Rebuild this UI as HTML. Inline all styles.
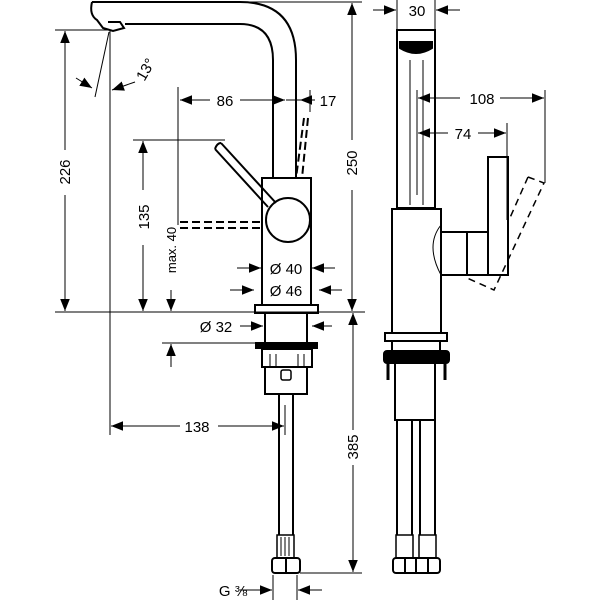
<!DOCTYPE html>
<html><head><meta charset="utf-8"><style>
html,body{margin:0;padding:0;background:#fff;}
svg{display:block}
text{font-family:"Liberation Sans",sans-serif;font-size:15px;fill:#000}
</style></head><body>
<svg width="600" height="600" viewBox="0 0 600 600" xmlns="http://www.w3.org/2000/svg">
<defs>
<marker id="a" viewBox="0 0 10 10" refX="10" refY="5" markerWidth="12" markerHeight="12" markerUnits="userSpaceOnUse" orient="auto"><path d="M0,1 L10,5 L0,9 z" fill="#000"/></marker>
</defs>
<g fill="none" stroke="#000" stroke-width="1">
<line x1="55" y1="312" x2="365" y2="312"/>
<line x1="55" y1="30" x2="112" y2="30"/>
<line x1="240" y1="2" x2="362" y2="2"/>
<line x1="133" y1="140" x2="225" y2="140"/>
<line x1="110" y1="30" x2="110" y2="435"/>
<line x1="178" y1="87" x2="178" y2="225"/>
<line x1="310" y1="90" x2="310" y2="112"/>
<line x1="109" y1="32" x2="95" y2="97"/>
<line x1="162" y1="343" x2="255" y2="343"/>
<line x1="285" y1="405" x2="285" y2="435"/>
<line x1="300" y1="573" x2="362" y2="573"/>
<line x1="273" y1="575" x2="273" y2="600"/>
<line x1="297" y1="575" x2="297" y2="600"/>
<line x1="397" y1="0" x2="397" y2="30"/>
<line x1="435" y1="0" x2="435" y2="30"/>
<line x1="545" y1="90" x2="545" y2="183"/>
<line x1="507" y1="123" x2="507" y2="220"/>
<line x1="417" y1="90" x2="417" y2="195"/>
<line x1="65" y1="150" x2="65" y2="31" marker-end="url(#a)"/>
<line x1="65" y1="195" x2="65" y2="311" marker-end="url(#a)"/>
<line x1="143" y1="190" x2="143" y2="141" marker-end="url(#a)"/>
<line x1="143" y1="245" x2="143" y2="311" marker-end="url(#a)"/>
<line x1="171" y1="290" x2="171" y2="311" marker-end="url(#a)"/>
<line x1="352" y1="140" x2="352" y2="3" marker-end="url(#a)"/>
<line x1="352" y1="190" x2="352" y2="311" marker-end="url(#a)"/>
<line x1="210" y1="100" x2="180" y2="100" marker-end="url(#a)"/>
<line x1="240" y1="100" x2="285" y2="100" marker-end="url(#a)"/>
<line x1="315" y1="100" x2="300" y2="100" marker-end="url(#a)"/>
<line x1="300" y1="100" x2="286" y2="100"/>
<line x1="76" y1="78" x2="92" y2="88" marker-end="url(#a)"/>
<line x1="135" y1="82" x2="112" y2="90" marker-end="url(#a)"/>
<line x1="237" y1="268" x2="261" y2="268" marker-end="url(#a)"/>
<line x1="335" y1="268" x2="312" y2="268" marker-end="url(#a)"/>
<line x1="230" y1="290" x2="254" y2="290" marker-end="url(#a)"/>
<line x1="342" y1="290" x2="319" y2="290" marker-end="url(#a)"/>
<line x1="240" y1="326" x2="263" y2="326" marker-end="url(#a)"/>
<line x1="332" y1="326" x2="312" y2="326" marker-end="url(#a)"/>
<line x1="171" y1="367" x2="171" y2="344" marker-end="url(#a)"/>
<line x1="180" y1="426" x2="111" y2="426" marker-end="url(#a)"/>
<line x1="218" y1="426" x2="284" y2="426" marker-end="url(#a)"/>
<line x1="353" y1="430" x2="353" y2="313" marker-end="url(#a)"/>
<line x1="353" y1="465" x2="353" y2="572" marker-end="url(#a)"/>
<line x1="240" y1="590" x2="272" y2="590" marker-end="url(#a)"/>
<line x1="322" y1="590" x2="298" y2="590" marker-end="url(#a)"/>
<line x1="373" y1="10" x2="396" y2="10" marker-end="url(#a)"/>
<line x1="460" y1="10" x2="436" y2="10" marker-end="url(#a)"/>
<line x1="460" y1="98" x2="418" y2="98" marker-end="url(#a)"/>
<line x1="500" y1="98" x2="544" y2="98" marker-end="url(#a)"/>
<line x1="448" y1="133" x2="418" y2="133" marker-end="url(#a)"/>
<line x1="478" y1="133" x2="506" y2="133" marker-end="url(#a)"/>
</g>
<g fill="none" stroke="#000" stroke-width="2">
<path d="M92,2 L240,2 Q296,2 296,60 L296,178"/>
<path d="M125,24 L240,24 Q273,24 273,60 L273,178"/>
<path d="M92,2 Q89,15 97,20 L103,28 L113,31 L124,28 L120,22 L108,22"/>
<rect x="262" y="178" width="49" height="127"/>
<rect x="255" y="305" width="63" height="8"/>
<path d="M221,143 L276,203 M215,149 L268,207"/>
<path d="M221,143 Q217,143 215,149"/>
<circle cx="288" cy="220" r="22"/>
<path d="M180,222 L262,222 M180,228 L262,228" stroke-dasharray="8,4"/>
<path d="M304,118 L296,178 M308,118 L302,178" stroke-dasharray="8,4"/>
<rect x="265" y="313" width="42" height="30"/>
<rect x="256" y="343" width="61" height="5" fill="#000"/>
<rect x="262" y="349" width="50" height="18"/>
<path d="M270,354 V366 M276,354 V366 M298,354 V366 M304,354 V366" stroke-width="1"/>
<rect x="265" y="367" width="42" height="27"/>
<rect x="281" y="370" width="10" height="10" rx="2" stroke-width="1.5"/>
<line x1="279" y1="394" x2="279" y2="535"/><line x1="293" y1="394" x2="293" y2="535"/>
<rect x="277" y="535" width="17" height="23" stroke-width="1.5"/>
<path d="M281,537 V556 M285,537 V556 M289,537 V556" stroke-width="1"/>
<rect x="272" y="558" width="28" height="15" rx="3"/>
<line x1="286" y1="558" x2="286" y2="573"/>
<rect x="397" y="30" width="38" height="178"/>
<path d="M400,48 Q416,58 432,48 L432,42 L400,42 Z" fill="#000"/>
<line x1="410" y1="60" x2="410" y2="205" stroke-width="1"/>
<line x1="423" y1="60" x2="423" y2="205" stroke-width="1"/>
<rect x="392" y="209" width="49" height="124"/>
<path d="M441,225 Q425,245 441,275" stroke-width="1"/>
<path d="M441,232 L488,232 M441,275 L508,275 M467,232 L467,275 M488,232 L488,240"/>
<rect x="488" y="157" width="20" height="118"/>
<path d="M528,177 L544,183 L494,290 L467,278 M528,177 L509,220" stroke-dasharray="7,5" stroke-width="1.5"/>
<rect x="385" y="333" width="62" height="8"/>
<rect x="392" y="341" width="48" height="10"/>
<rect x="384" y="351" width="65" height="12" rx="3" fill="#000"/>
<rect x="395" y="363" width="40" height="57"/>
<path d="M388,363 L388,380 M445,363 L445,380" stroke-width="3"/>
<line x1="397" y1="420" x2="397" y2="535"/><line x1="412" y1="420" x2="412" y2="535"/>
<line x1="420" y1="420" x2="420" y2="535"/><line x1="435" y1="420" x2="435" y2="535"/>
<rect x="396" y="535" width="17" height="23" stroke-width="1.5"/>
<rect x="419" y="535" width="17" height="23" stroke-width="1.5"/>
<rect x="393" y="558" width="47" height="15" rx="3"/>
<path d="M405,558 V573 M416,558 V573 M428,558 V573"/>
</g>
<text x="0" y="0" text-anchor="middle" transform="translate(70,172) rotate(-90)">226</text>
<text x="0" y="0" text-anchor="middle" transform="translate(149,217) rotate(-90)">135</text>
<text x="0" y="0" text-anchor="middle" transform="translate(176,250) rotate(-90)" style="font-size:13px">max. 40</text>
<text x="0" y="0" text-anchor="middle" transform="translate(357,163) rotate(-90)">250</text>
<text x="0" y="0" text-anchor="middle" transform="translate(358,447) rotate(-90)">385</text>
<text x="0" y="0" text-anchor="middle" transform="translate(150,72) rotate(-60)">13°</text>
<text x="225" y="106" text-anchor="middle">86</text>
<text x="328" y="106" text-anchor="middle">17</text>
<text x="286" y="274" text-anchor="middle">Ø 40</text>
<text x="286" y="296" text-anchor="middle">Ø 46</text>
<text x="216" y="332" text-anchor="middle">Ø 32</text>
<text x="197" y="432" text-anchor="middle">138</text>
<text x="233" y="596" text-anchor="middle">G ⅜</text>
<text x="417" y="16" text-anchor="middle">30</text>
<text x="482" y="104" text-anchor="middle">108</text>
<text x="463" y="139" text-anchor="middle">74</text>
</svg>
</body></html>
